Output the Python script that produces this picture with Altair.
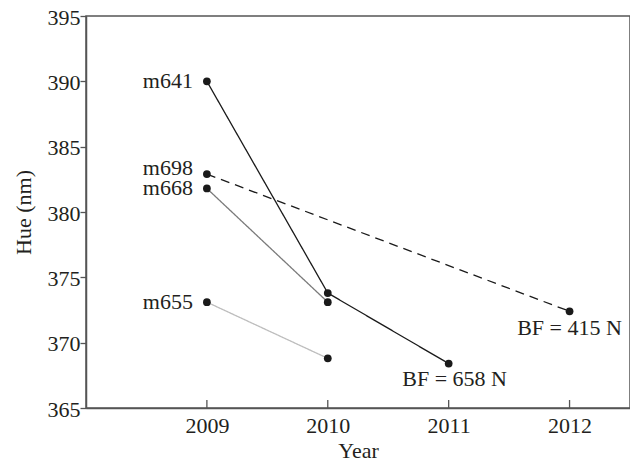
import altair as alt
import pandas as pd

series = ["m641", "m641", "m641", "m668", "m668", "m698", "m698", "m655", "m655"]
years = [2009, 2010, 2011, 2009, 2010, 2009, 2012, 2009, 2010]
hue = [390.0, 373.8, 368.4, 381.8, 373.1, 382.9, 372.4, 373.1, 368.8]

series_names = ["m641", "m668", "m698", "m655"]
series_colors = ["#1a1a1a", "#7a7a7a", "#1a1a1a", "#bdbdbd"]
series_dash = [[1, 0], [1, 0], [9, 6], [1, 0]]

tick_years = [2009, 2010, 2011, 2012]
bf_years = [2011, 2012]
bf_hue = [368.4, 372.4]
bf_text = ["BF = 658 N", "BF = 415 N"]

FONT = "Liberation Serif"
TXT = "#231f20"
FS = 22

df = pd.DataFrame({"series": series, "year": years, "hue": hue})
first = df.groupby("series", sort=False).first().reset_index()
bf_df = pd.DataFrame({"year": bf_years, "hue": bf_hue, "label": bf_text})
tick_df = pd.DataFrame({"year": tick_years})

x_scale = alt.Scale(domain=[2008, 2012.5], nice=False, zero=False)
y_scale = alt.Scale(domain=[365, 395], nice=False, zero=False)

x_enc = alt.X(
    "year:Q",
    scale=x_scale,
    axis=alt.Axis(
        values=tick_years, format="d", title="Year", ticks=False, grid=False,
        labelPadding=7, titleY=49, titleBaseline="alphabetic",
        domainColor="#555555", domainWidth=1.5,
    ),
)
y_enc = alt.Y(
    "hue:Q",
    scale=y_scale,
    axis=alt.Axis(
        values=[365, 370, 375, 380, 385, 390, 395], title="Hue (nm)", grid=False,
        tickSize=6, labelPadding=0, tickColor="#555555", tickWidth=1.3,
        labelOffset=1,
        titleX=-56, titleY=196, titleBaseline="alphabetic",
        domainColor="#555555", domainWidth=1.5,
    ),
)

color = alt.Color("series:N", scale=alt.Scale(domain=series_names, range=series_colors), legend=None)
dash = alt.StrokeDash("series:N", scale=alt.Scale(domain=series_names, range=series_dash), legend=None)

lines = alt.Chart(df).mark_line(strokeWidth=1.3).encode(
    x=x_enc, y=y_enc, color=color, strokeDash=dash, detail="series:N"
)
points = alt.Chart(df).mark_point(filled=True, size=60, color="#1a1a1a", opacity=1).encode(
    x="year:Q", y="hue:Q"
)

name_labels = alt.Chart(first).transform_filter(alt.datum.series != "m698").mark_text(
    align="right", baseline="middle", dx=-14, font=FONT, fontSize=FS, color=TXT
).encode(x="year:Q", y="hue:Q", text="series:N")
name_698 = alt.Chart(first).transform_filter(alt.datum.series == "m698").mark_text(
    align="right", baseline="middle", dx=-14, dy=-6, font=FONT, fontSize=FS, color=TXT
).encode(x="year:Q", y="hue:Q", text="series:N")

bf1 = alt.Chart(bf_df).transform_filter(alt.datum.year == 2011).mark_text(
    align="center", baseline="alphabetic", dx=6, dy=22, font=FONT, fontSize=FS, color=TXT
).encode(x="year:Q", y="hue:Q", text="label:N")
bf2 = alt.Chart(bf_df).transform_filter(alt.datum.year == 2012).mark_text(
    align="center", baseline="alphabetic", dx=0, dy=24, font=FONT, fontSize=FS, color=TXT
).encode(x="year:Q", y="hue:Q", text="label:N")

xticks = alt.Chart(tick_df).mark_rule(color="#555555", strokeWidth=1.3).encode(
    x="year:Q", y=alt.value(392), y2=alt.value(384)
)

chart = alt.layer(lines, points, name_labels, name_698, bf1, bf2, xticks).properties(
    width=544, height=392,
    autosize=alt.AutoSizeParams(type="none"),
    padding={"left": 78, "top": 8, "right": 0, "bottom": 55},
    background="white",
).configure_view(
    stroke="#555555", strokeWidth=1.5
).configure_axis(
    labelFont=FONT, titleFont=FONT, labelFontSize=FS, titleFontSize=FS,
    labelColor=TXT, titleColor=TXT, titleFontWeight="normal",
)

chart.save("out.html", embed_options={"renderer": "svg", "actions": False})
